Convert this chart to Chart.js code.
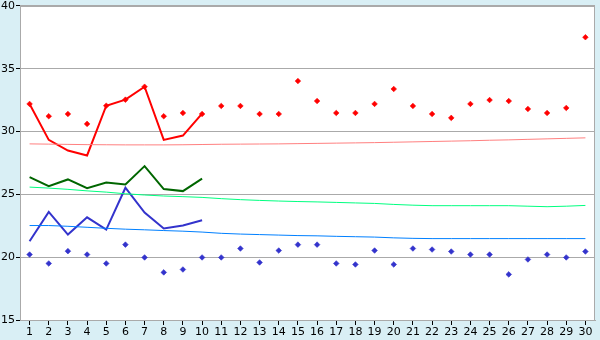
<!DOCTYPE html>
<html>
<head>
<meta charset="utf-8">
<script src="https://cdn.jsdelivr.net/npm/chart.js@4"></script>
<style>
html,body{margin:0;padding:0;background:#d9eff5;}
#wrap{width:600px;height:340px;position:relative;}
</style>
</head>
<body>
<div id="wrap"><canvas id="c" width="600" height="340"></canvas></div>
<script>
const days = ['1','2','3','4','5','6','7','8','9','10','11','12','13','14','15','16','17','18','19','20','21','22','23','24','25','26','27','28','29','30'];
const yTicks = [15, 20, 25, 30, 35, 40];

// red series
const redLine = [32.2, 29.34, 28.49, 28.1, 32.06, 32.54, 33.57, 29.34, 29.68, 31.43,
  null,null,null,null,null,null,null,null,null,null,null,null,null,null,null,null,null,null,null,null];
const redPoints = [32.2, 31.22, 31.4, 30.61, 32.06, 32.54, 33.57, 31.22, 31.48, 31.4,
  32.04, 32.04, 31.4, 31.4, 34.02, 32.43, 31.48, 31.48, 32.2, 33.39,
  32.04, 31.4, 31.09, 32.2, 32.51, 32.43, 31.8, 31.48, 31.88, 37.51];
const redTrend = [29.02, 29.0, 28.98, 28.96, 28.95, 28.94, 28.94, 28.94, 28.95, 28.97,
  28.99, 29.0, 29.01, 29.02, 29.04, 29.06, 29.08, 29.1, 29.12, 29.15,
  29.18, 29.21, 29.24, 29.27, 29.31, 29.34, 29.38, 29.42, 29.46, 29.5];

// green series
const greenLine = [26.37, 25.66, 26.19, 25.5, 25.95, 25.79, 27.25, 25.42, 25.26, 26.26,
  null,null,null,null,null,null,null,null,null,null,null,null,null,null,null,null,null,null,null,null];
const greenTrend = [25.58, 25.5, 25.4, 25.28, 25.18, 25.05, 24.95, 24.87, 24.82, 24.76,
  24.66, 24.58, 24.52, 24.47, 24.43, 24.4, 24.36, 24.32, 24.28, 24.2,
  24.14, 24.1, 24.1, 24.1, 24.1, 24.1, 24.06, 24.02, 24.06, 24.12];

// blue series
const blueLine = [21.27, 23.6, 21.8, 23.17, 22.2, 25.53, 23.55, 22.28, 22.52, 22.94,
  null,null,null,null,null,null,null,null,null,null,null,null,null,null,null,null,null,null,null,null];
const bluePoints = [20.21, 19.5, 20.48, 20.21, 19.5, 21.0, 19.98, 18.79, 19.02, 19.98,
  19.98, 20.69, 19.58, 20.53, 21.0, 21.0, 19.5, 19.42, 20.53, 19.42,
  20.69, 20.61, 20.45, 20.21, 20.21, 18.63, 19.82, 20.21, 19.98, 20.45];
const blueTrend = [22.52, 22.52, 22.46, 22.38, 22.3, 22.23, 22.18, 22.12, 22.07, 22.0,
  21.9, 21.84, 21.8, 21.76, 21.72, 21.7, 21.66, 21.63, 21.6, 21.54,
  21.5, 21.48, 21.48, 21.48, 21.48, 21.48, 21.48, 21.48, 21.48, 21.48];

const bgPlugin = {
  id: 'bg',
  beforeDraw(chart) {
    const {ctx, chartArea: a} = chart;
    ctx.save();
    ctx.fillStyle = '#d9eff5';
    ctx.fillRect(0, 0, chart.width, chart.height);
    ctx.fillStyle = '#ffffff';
    ctx.fillRect(a.left, a.top, a.right - a.left, a.bottom - a.top);
    ctx.restore();
  },
  afterDatasetsDraw(chart) {
    const {ctx, chartArea: a} = chart;
    ctx.save();
    ctx.strokeStyle = '#aaaaaa';
    ctx.lineWidth = 1;
    ctx.strokeRect(Math.round(a.left) + 0.5, Math.round(a.top) + 0.5,
      Math.round(a.right - a.left) - 1, Math.round(a.bottom - a.top));
    ctx.restore();
  }
};

function lineDs(data, color, width) {
  return {data, borderColor: color, backgroundColor: color, borderWidth: width,
    pointRadius: 0, fill: false, tension: 0, spanGaps: false};
}
function ptDs(data, color) {
  return {data, borderColor: color, backgroundColor: color, showLine: false,
    pointStyle: 'rectRot', pointRadius: 2.8, pointBorderWidth: 0.6};
}

new Chart(document.getElementById('c'), {
  type: 'line',
  data: {
    labels: days,
    datasets: [
      lineDs(redTrend, '#ff8080', 1),
      lineDs(greenTrend, '#00ff80', 1),
      lineDs(blueTrend, '#0080ff', 1),
      ptDs(redPoints, '#ff0000'),
      ptDs(bluePoints, '#3333cc'),
      lineDs(redLine, '#ff0000', 2),
      lineDs(greenLine, '#006600', 2),
      lineDs(blueLine, '#3333cc', 2)
    ]
  },
  options: {
    responsive: false,
    animation: false,
    devicePixelRatio: 1,
    layout: {padding: {top: 0, right: 5, left: 0, bottom: 0}},
    plugins: {legend: {display: false}, tooltip: {enabled: false}},
    scales: {
      x: {
        offset: true,
        grid: {display: true, drawOnChartArea: false, drawTicks: true, tickLength: 5, tickColor: '#000000', offset: false},
        border: {color: '#aaaaaa'},
        ticks: {color: '#000000', font: {family: 'DejaVu Sans', size: 11}, padding: 1, maxRotation: 0, autoSkip: false},
        afterFit(s) { s.height = 20; }
      },
      y: {
        min: 15, max: 40,
        afterBuildTicks(s) { s.ticks = yTicks.map(v => ({value: v})); },
        grid: {color: '#aaaaaa', tickLength: 4, tickColor: '#000000'},
        border: {color: '#aaaaaa'},
        ticks: {color: '#000000', font: {family: 'DejaVu Sans', size: 11, lineHeight: 0.9}, padding: 1},
        afterFit(s) { s.width = 20; }
      }
    }
  },
  plugins: [bgPlugin]
});
</script>
</body>
</html>
